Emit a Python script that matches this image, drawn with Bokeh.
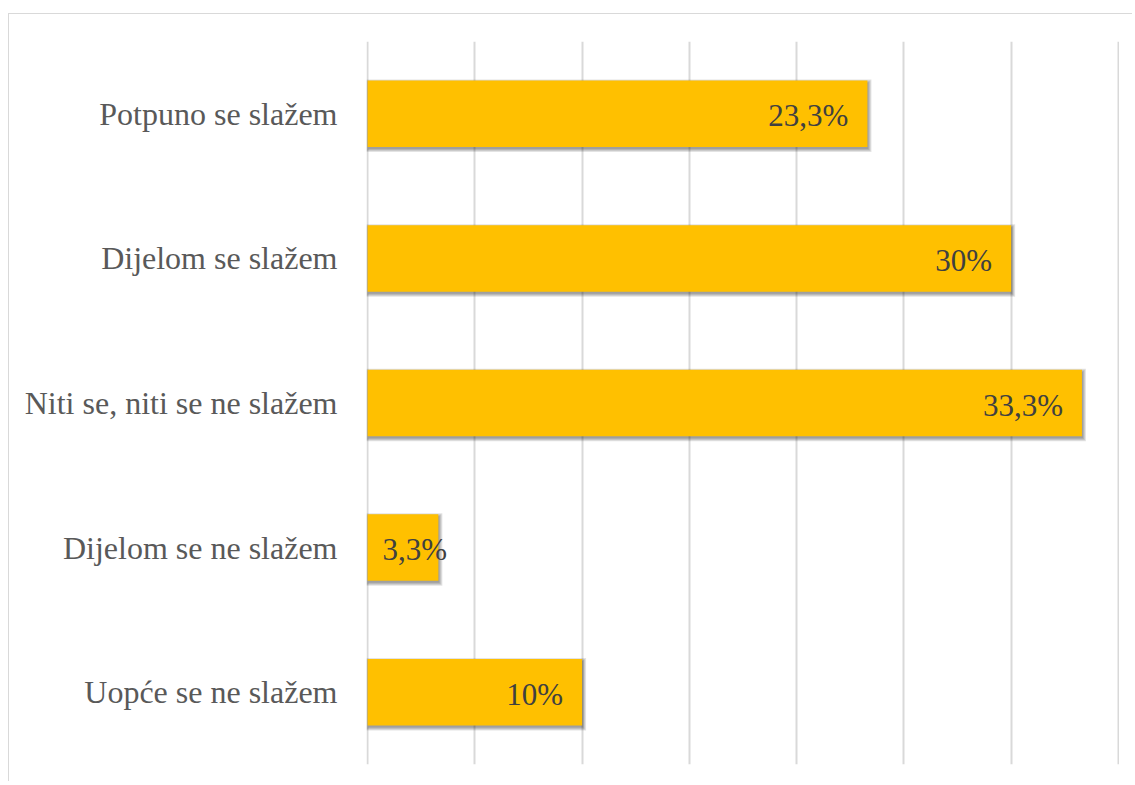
from bokeh.plotting import figure
from bokeh.models import FactorRange, Range1d, FixedTicker, ColumnDataSource, InlineStyleSheet
from bokeh.transform import dodge
from bokeh.core.properties import value
from bokeh.embed import file_html
from bokeh.resources import INLINE

# ---- data ----
categories = ["Potpuno se slažem", "Dijelom se slažem", "Niti se, niti se ne slažem",
              "Dijelom se ne slažem", "Uopće se ne slažem"]
values = [23.3, 30, 33.3, 3.3, 10]
value_labels = ["23,3%", "30%", "33,3%", "3,3%", "10%"]
grid_ticks = [0, 5, 10, 15, 20, 25, 30, 35]

FONT = "Liberation Serif"
BAR = "#FFC000"

p = figure(y_range=FactorRange(factors=list(reversed(categories))),
           x_range=Range1d(-0.05, 35.05),
           frame_width=753, frame_height=723,
           min_border_left=366, min_border_right=0, min_border_top=41, min_border_bottom=5,
           output_backend="svg", toolbar_location=None)

px = 35.1 / 753.0    # one pixel in x data units
py = 1 / 144.6       # one pixel in y (category band) units

src = ColumnDataSource(dict(cat=categories, val=values, lab=value_labels))

# soft drop shadow (several translucent layers, offset down-right)
for k in range(0, 4):
    sh = ColumnDataSource(dict(cat=categories,
                               left=[(1 - k) * px] * len(values),
                               right=[v + (1 + k) * px for v in values]))
    p.hbar(y=dodge("cat", -2 * py, range=p.y_range), left="left", right="right",
           height=0.46 + 2 * k * py, source=sh,
           fill_color="#000000", fill_alpha=0.11, line_color=None)

p.hbar(y="cat", left=0, right="val", height=0.46, source=src,
       fill_color=BAR, line_color=None)

# value labels: inside end for wide bars, from base for narrow ones
big = [i for i, v in enumerate(values) if v >= 5]
small = [i for i, v in enumerate(values) if v < 5]
src_big = ColumnDataSource(dict(cat=[categories[i] for i in big], val=[values[i] for i in big],
                                lab=[value_labels[i] for i in big]))
src_small = ColumnDataSource(dict(cat=[categories[i] for i in small], val=[0 for i in small],
                                  lab=[value_labels[i] for i in small]))
p.text(x="val", y="cat", text="lab", source=src_big, text_align="right", text_baseline="middle",
       x_offset=-19, y_offset=2, text_font=value(FONT), text_font_size="31px", text_color="#404040")
p.text(x="val", y="cat", text="lab", source=src_small, text_align="left", text_baseline="middle",
       x_offset=15, y_offset=2, text_font=value(FONT), text_font_size="31px", text_color="#404040")

# axes / grid
p.xaxis.visible = False
p.xgrid.ticker = FixedTicker(ticks=grid_ticks)
p.xgrid.grid_line_color = "#d9d9d9"
p.xgrid.grid_line_width = 2
p.ygrid.grid_line_color = None

p.yaxis.axis_line_color = None
p.yaxis.major_tick_line_color = None
p.yaxis.minor_tick_line_color = None
p.yaxis.major_tick_out = 0
p.yaxis.major_tick_in = 0
p.yaxis.major_label_text_font = FONT
p.yaxis.major_label_text_font_size = "32px"
p.yaxis.major_label_text_color = "#595959"
p.yaxis.major_label_standoff = 29

p.outline_line_color = None

# chart-area border (top and left edges of the chart box)
p.stylesheets = [InlineStyleSheet(css="""
:host { position: relative; }
:host::before {
  content: ""; position: absolute; left: 8px; top: 13px; width: 1124px; height: 768px;
  border-left: 1px solid #d9d9d9; border-top: 1px solid #d9d9d9;
  pointer-events: none; z-index: 10; box-sizing: border-box;
}
""")]

open("out.html", "w").write(file_html(p, INLINE))
